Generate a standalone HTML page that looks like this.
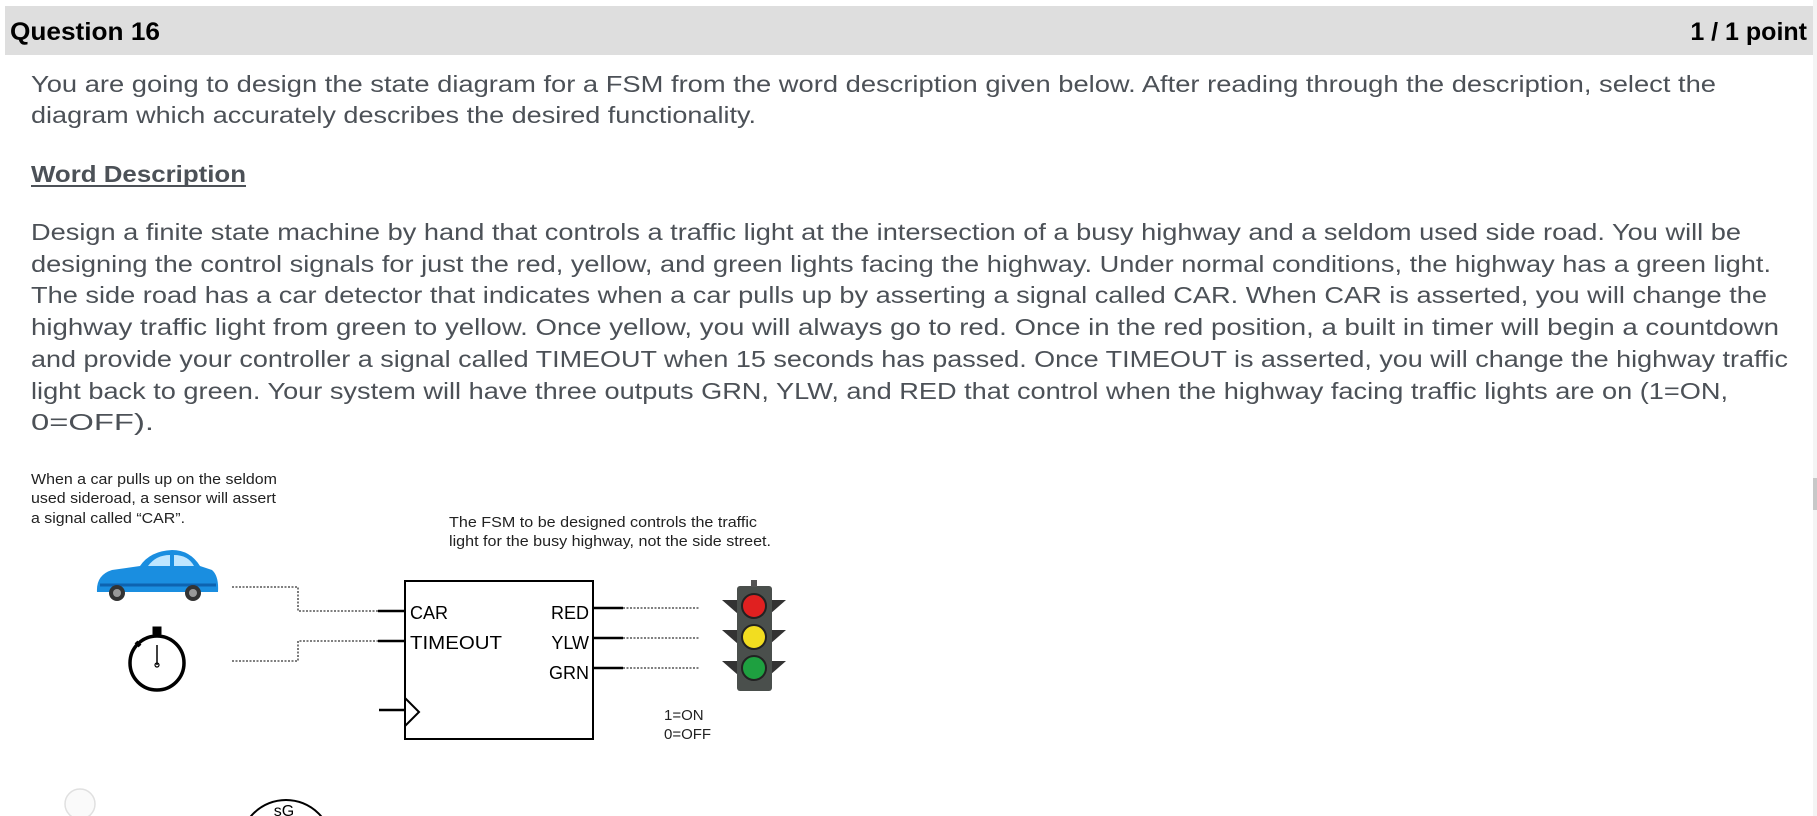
<!DOCTYPE html>
<html><head><meta charset="utf-8"><style>
html,body{margin:0;padding:0;background:#fff;width:1817px;height:816px;overflow:hidden;}
svg{display:block;}
text{font-family:"Liberation Sans",Arial,sans-serif;}
</style></head><body>
<svg width="1817" height="816" viewBox="0 0 1817 816" xmlns="http://www.w3.org/2000/svg">
<rect x="0" y="0" width="1817" height="816" fill="#fff"/>
<!-- header -->
<rect x="5" y="6" width="1808" height="49" fill="#dedede"/>
<text x="10" y="40" font-size="25" font-weight="bold" fill="#000" textLength="150" lengthAdjust="spacingAndGlyphs">Question 16</text>
<text x="1807" y="40" font-size="25" font-weight="bold" fill="#000" text-anchor="end">1 / 1 point</text>
<rect x="1813" y="0" width="4" height="816" fill="#f4f4f4"/>
<rect x="1813" y="478" width="4" height="32" fill="#c8c8c8"/>
<g font-size="23" fill="#4c5157">
<text x="31" y="92" textLength="1685" lengthAdjust="spacingAndGlyphs">You are going to design the state diagram for a FSM from the word description given below.  After reading through the description, select the</text>
<text x="31" y="123" textLength="725" lengthAdjust="spacingAndGlyphs">diagram which accurately describes the desired functionality.</text>
<text x="31" y="182" font-weight="bold" textLength="215" lengthAdjust="spacingAndGlyphs">Word Description</text>
<text x="31" y="240" textLength="1710" lengthAdjust="spacingAndGlyphs">Design a finite state machine by hand that controls a traffic light at the intersection of a busy highway and a seldom used side road.  You will be</text>
<text x="31" y="272" textLength="1740" lengthAdjust="spacingAndGlyphs">designing the control signals for just the red, yellow, and green lights facing the highway.  Under normal conditions, the highway has a green light.</text>
<text x="31" y="303" textLength="1736" lengthAdjust="spacingAndGlyphs">The side road has a car detector that indicates when a car pulls up by asserting a signal called CAR.  When CAR is asserted, you will change the</text>
<text x="31" y="335" textLength="1748" lengthAdjust="spacingAndGlyphs">highway traffic light from green to yellow.  Once yellow, you will always go to red.  Once in the red position, a built in timer will begin a countdown</text>
<text x="31" y="367" textLength="1757" lengthAdjust="spacingAndGlyphs">and provide your controller a signal called TIMEOUT when 15 seconds has passed.  Once TIMEOUT is asserted, you will change the highway traffic</text>
<text x="31" y="399" textLength="1697" lengthAdjust="spacingAndGlyphs">light back to green.  Your system will have three outputs GRN, YLW, and RED that control when the highway facing traffic lights are on (1=ON,</text>
<text x="31" y="430" textLength="123" lengthAdjust="spacingAndGlyphs">0=OFF).</text>
</g>
<rect x="31" y="185" width="215" height="2" fill="#4c5157"/>
<!-- captions -->
<g font-size="15" fill="#222">
<text x="31" y="484" textLength="246" lengthAdjust="spacingAndGlyphs">When a car pulls up on the seldom</text>
<text x="31" y="503" textLength="245" lengthAdjust="spacingAndGlyphs">used sideroad, a sensor will assert</text>
<text x="31" y="523" textLength="154" lengthAdjust="spacingAndGlyphs">a signal called “CAR”.</text>
<text x="449" y="527" textLength="308" lengthAdjust="spacingAndGlyphs">The FSM to be designed controls the traffic</text>
<text x="449" y="546" textLength="322" lengthAdjust="spacingAndGlyphs">light for the busy highway, not the side street.</text>
<text x="664" y="720">1=ON</text>
<text x="664" y="739">0=OFF</text>
</g>
<!-- car -->
<g>
<path d="M97,592 Q96,575 112,570 L140,566 Q150,551 172,550 Q190,550 200,566 L212,570 Q219,576 218,592 Z" fill="#1a8ee0"/>
<path d="M148,566 Q156,555 170,555 L170,566 Z M174,555 Q188,555 194,566 L174,566 Z" fill="#bfe6ff"/>
<path d="M100,585 L216,585" stroke="#0d63b0" stroke-width="3"/>
<circle cx="117" cy="593" r="8" fill="#333"/><circle cx="117" cy="593" r="4" fill="#999"/>
<circle cx="193" cy="593" r="8" fill="#333"/><circle cx="193" cy="593" r="4" fill="#999"/>
</g>
<!-- stopwatch -->
<g stroke="#000" fill="none">
<circle cx="157" cy="663" r="27" stroke-width="3.5"/>
<rect x="153" y="627" width="8" height="7" fill="#000"/>
<line x1="157" y1="634" x2="157" y2="637" stroke-width="3"/>
<line x1="136" y1="642" x2="140" y2="646" stroke-width="4"/>
<line x1="157" y1="645" x2="157" y2="665" stroke-width="1.5"/>
<circle cx="157" cy="665" r="2" stroke-width="1.2"/>
</g>
<!-- connectors -->
<g stroke="#333" stroke-width="1.3" stroke-dasharray="2,1.5" fill="none">
<path d="M232,587 H298 V611 H378"/>
<path d="M232,661 H298 V641 H378"/>
<path d="M623,608 H700"/>
<path d="M623,638 H700"/>
<path d="M623,668 H700"/>
</g>
<g stroke="#000" stroke-width="2.5" fill="none">
<path d="M378,611 H405 M378,641 H405 M379,710 H405"/>
<path d="M593,608 H623 M593,638 H623 M593,668 H623"/>
<rect x="405" y="581" width="188" height="158" stroke-width="2"/>
<path d="M405,698 L419,712 L405,726" stroke-width="2"/>
</g>
<g font-size="18" fill="#000">
<text x="410" y="619">CAR</text>
<text x="410" y="649" textLength="92" lengthAdjust="spacingAndGlyphs">TIMEOUT</text>
<text x="589" y="619" text-anchor="end">RED</text>
<text x="589" y="649" text-anchor="end">YLW</text>
<text x="589" y="679" text-anchor="end">GRN</text>
</g>
<!-- traffic light -->
<g>
<path d="M722,600 L738,600 L738,614 Z M786,600 L770,600 L770,614 Z M722,630 L738,630 L738,644 Z M786,630 L770,630 L770,644 Z M722,661 L738,661 L738,675 Z M786,661 L770,661 L770,675 Z" fill="#333"/>
<rect x="737" y="586" width="35" height="105" rx="3" fill="#4a4f4c"/>
<rect x="751" y="580" width="6" height="7" fill="#555"/>
<circle cx="754" cy="606" r="12" fill="#e02020" stroke="#222" stroke-width="2"/>
<circle cx="754" cy="637" r="12" fill="#f2dd20" stroke="#222" stroke-width="2"/>
<circle cx="754" cy="668" r="12" fill="#1ea040" stroke="#222" stroke-width="2"/>
</g>
<!-- bottom -->
<circle cx="80" cy="804" r="15" fill="#fafafa" stroke="#e0e0e0" stroke-width="1.5"/>
<circle cx="286" cy="846" r="46" fill="none" stroke="#000" stroke-width="2"/>
<text x="284" y="816" font-size="16" fill="#000" text-anchor="middle">sG</text>
</svg>
</body></html>
